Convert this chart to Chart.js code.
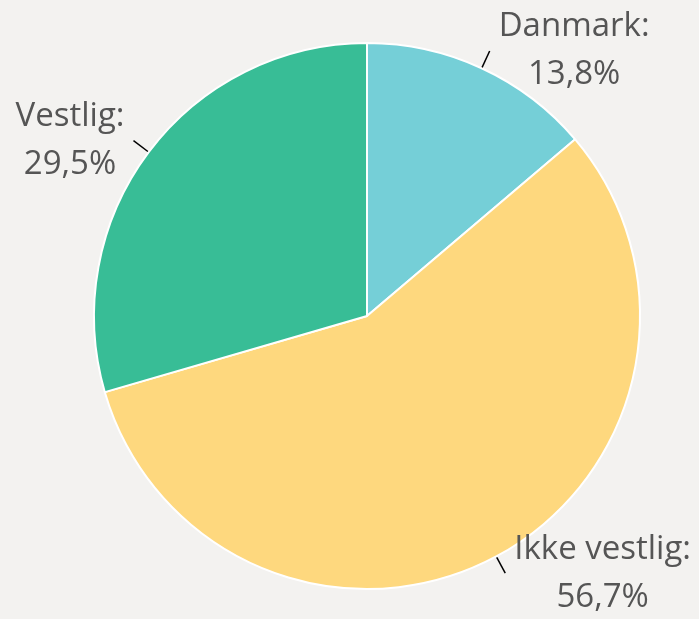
<!doctype html>
<html lang="da">
<head>
    <meta charset="utf-8">
    <title>Fordeling</title>
    <script src="https://cdn.jsdelivr.net/npm/chart.js@4"></script>
    <style>
        body { margin: 0; background: #f3f2f0; }
    </style>
</head>
<body>
    <canvas id="chart" width="699" height="619"></canvas>
    <script>
        const LABELS = ["Danmark", "Ikke vestlig", "Vestlig"];
        const VALUES = [13.8, 56.7, 29.5];
        const COLORS = ["#75cfd7", "#fed87e", "#38bd96"];

        const fmt = v => v.toFixed(1).replace(".", ",") + "%";

        // leader ticks + two-line labels outside each slice
        const outsideLabels = {
            id: "outsideLabels",
            afterDraw(chart) {
                const ctx = chart.ctx;
                const meta = chart.getDatasetMeta(0);
                ctx.save();
                ctx.font = "33px 'Open Sans'";
                ctx.textAlign = "center";
                ctx.textBaseline = "middle";
                meta.data.forEach((arc, i) => {
                    const mid = (arc.startAngle + arc.endAngle) / 2;
                    const cos = Math.cos(mid), sin = Math.sin(mid);
                    const r = arc.outerRadius;
                    const x1 = arc.x + cos * (r + 1), y1 = arc.y + sin * (r + 1);
                    const x2 = arc.x + cos * (r + 19), y2 = arc.y + sin * (r + 19);
                    ctx.strokeStyle = "#000";
                    ctx.lineWidth = 1.5;
                    ctx.beginPath();
                    ctx.moveTo(x1, y1);
                    ctx.lineTo(x2, y2);
                    ctx.stroke();

                    const lines = [LABELS[i] + ":", fmt(VALUES[i])];
                    const w = Math.max(...lines.map(l => ctx.measureText(l).width));
                    const cx = cos >= 0 ? x2 + 9 + w / 2 : x2 - 9 - w / 2;
                    ctx.fillStyle = "#555";
                    lines.forEach((l, k) => ctx.fillText(l, cx, y2 + (k - 0.5) * 48));
                });
                ctx.restore();
            }
        };

        new Chart("chart", {
            type: "pie",
            data: {
                labels: LABELS,
                datasets: [{
                    data: VALUES,
                    backgroundColor: COLORS,
                    borderColor: "#fff",
                    borderWidth: 2
                }]
            },
            options: {
                responsive: false,
                animation: false,
                layout: { padding: { top: 42, bottom: 29, left: 93, right: 58 } },
                plugins: {
                    legend: { display: false },
                    tooltip: { enabled: false }
                }
            },
            plugins: [outsideLabels]
        });
    </script>
</body>
</html>
